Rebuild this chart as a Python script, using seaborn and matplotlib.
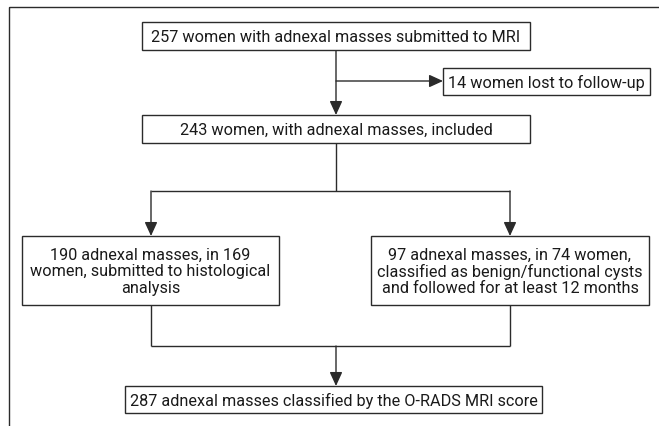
import matplotlib
matplotlib.use("Agg")
import matplotlib.pyplot as plt
import seaborn as sns
from matplotlib.patches import Rectangle

# box texts
top_text = "257 women with adnexal masses submitted to MRI"
lost_text = "14 women lost to follow-up"
included_text = "243 women, with adnexal masses, included"
histo_text = "190 adnexal masses, in 169\nwomen, submitted to histological\nanalysis"
followed_text = "97 adnexal masses, in 74 women,\nclassified as benign/functional cysts\nand followed for at least 12 months"
final_text = "287 adnexal masses classified by the O-RADS MRI score"

# layout in pixel coords: (x0, y0, x1, y1)
boxes = {
    "top": (142, 23, 530, 51),
    "lost": (443, 69, 650, 96),
    "included": (142, 116, 530, 144),
    "histo": (22, 237, 279, 306),
    "followed": (371, 237, 649, 306),
    "final": (125, 387, 542, 414),
}
texts = {
    "top": top_text, "lost": lost_text, "included": included_text,
    "histo": histo_text, "followed": followed_text, "final": final_text,
}

sns.set_theme(style="white")
plt.rcParams['font.family'] = ['Roboto', 'DejaVu Sans']

line_c = "#2b2b2b"
lw = 1.0

fig = plt.figure(figsize=(6.59, 4.27), dpi=100)
ax = fig.add_axes([0, 0, 1, 1])
ax.set_xlim(0, 659)
ax.set_ylim(427, 0)
ax.axis("off")

# outer frame (runs off the right and bottom edges)
ax.add_patch(Rectangle((9, 8), 700, 480, fill=False, ec=line_c, lw=lw))

for key, (x0, y0, x1, y1) in boxes.items():
    ax.add_patch(Rectangle((x0, y0), x1 - x0, y1 - y0, fill=True, fc="white",
                           ec=line_c, lw=lw, zorder=2))
    ax.text((x0 + x1) / 2, (y0 + y1) / 2 + 0.5, texts[key], ha="center", va="center",
            fontsize=11.7, color="#1a1a1a", linespacing=1.1, zorder=3)


def line(xs, ys):
    ax.plot(xs, ys, color=line_c, lw=lw, solid_capstyle="butt", zorder=1)


def arrow(x0, y0, x1, y1):
    ax.annotate("", xy=(x1, y1), xytext=(x0, y0),
                arrowprops=dict(arrowstyle="-|>,head_length=0.7,head_width=0.32",
                                color=line_c, lw=lw, mutation_scale=12,
                                shrinkA=0, shrinkB=0), zorder=1)


cx = 336
# top -> included, with branch to lost
arrow(cx, 51, cx, 116)
arrow(cx, 82, 443, 82)
# included -> split
line([cx, cx], [144, 192])
line([151, 510], [192, 192])
arrow(151, 192, 151, 237)
arrow(510, 192, 510, 237)
# merge
line([151, 151], [306, 347])
line([510, 510], [306, 347])
line([151, 510], [347, 347])
arrow(cx, 347, cx, 387)

fig.savefig("out.png", dpi=100)
